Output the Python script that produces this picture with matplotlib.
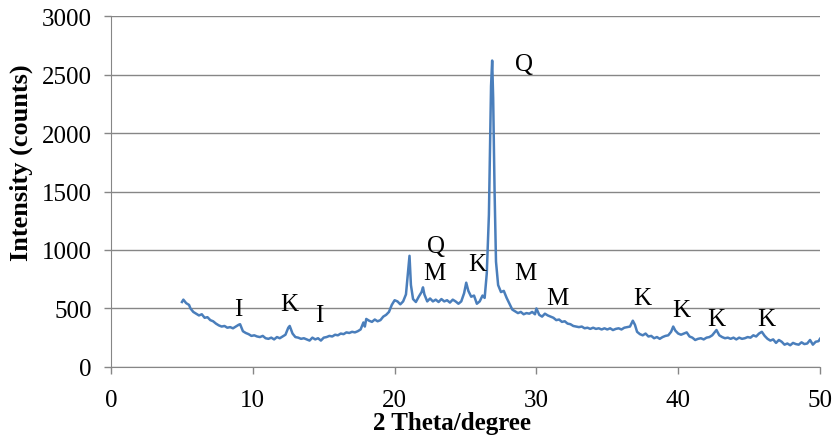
import matplotlib
matplotlib.use("Agg")
import matplotlib.pyplot as plt

plt.rcParams['font.family'] = ['Liberation Serif', 'DejaVu Serif']

# 2 theta (deg) and intensity (counts)
two_theta = [5.0, 5.1, 5.3, 5.5, 5.6, 5.8, 6.0, 6.2, 6.4, 6.6, 6.8, 7.0, 7.2, 7.4, 7.6, 7.8,
             8.0, 8.2, 8.4, 8.6, 8.8, 9.0, 9.1, 9.3, 9.5, 9.7, 9.9, 10.1, 10.3, 10.5, 10.7,
             10.9, 11.1, 11.3, 11.5, 11.7, 11.9, 12.1, 12.3, 12.5, 12.6, 12.8, 13.0, 13.2,
             13.4, 13.6, 13.8, 14.0, 14.2, 14.4, 14.6, 14.8, 15.0, 15.2, 15.4, 15.6, 15.8,
             16.0, 16.2, 16.4, 16.6, 16.8, 17.0, 17.2, 17.4, 17.6, 17.8, 17.9, 18.0, 18.2,
             18.4, 18.6, 18.8, 19.0, 19.2, 19.4, 19.6, 19.8, 20.0, 20.2, 20.4, 20.6, 20.8,
             20.95, 21.05, 21.15, 21.3, 21.5, 21.7, 21.9, 22.0, 22.1, 22.3, 22.5, 22.7, 22.9,
             23.1, 23.3, 23.5, 23.7, 23.9, 24.1, 24.3, 24.5, 24.7, 24.9, 25.05, 25.2, 25.4,
             25.6, 25.8, 26.0, 26.2, 26.35, 26.5, 26.65, 26.8, 26.88, 26.95, 27.05, 27.15,
             27.3, 27.5, 27.7, 27.9, 28.1, 28.3, 28.5, 28.7, 28.9, 29.1, 29.3, 29.5, 29.7,
             29.9, 30.0, 30.2, 30.4, 30.6, 30.8, 31.0, 31.2, 31.4, 31.6, 31.8, 32.0, 32.2,
             32.4, 32.6, 32.8, 33.0, 33.2, 33.4, 33.6, 33.8, 34.0, 34.2, 34.4, 34.6, 34.8,
             35.0, 35.2, 35.4, 35.6, 35.8, 36.0, 36.2, 36.4, 36.6, 36.8, 36.95, 37.1, 37.3,
             37.5, 37.7, 37.9, 38.1, 38.3, 38.5, 38.7, 38.9, 39.1, 39.3, 39.5, 39.65, 39.8,
             40.0, 40.2, 40.4, 40.6, 40.8, 41.0, 41.2, 41.4, 41.6, 41.8, 42.0, 42.2, 42.4,
             42.6, 42.7, 42.9, 43.1, 43.3, 43.5, 43.7, 43.9, 44.1, 44.3, 44.5, 44.7, 44.9,
             45.1, 45.3, 45.5, 45.7, 45.9, 46.1, 46.3, 46.5, 46.7, 46.9, 47.1, 47.3, 47.5,
             47.7, 47.9, 48.1, 48.3, 48.5, 48.7, 48.9, 49.1, 49.3, 49.5, 49.7, 49.9, 50.0]
counts = [555, 575, 545, 530, 500, 470, 455, 440, 450, 420, 425, 400, 390, 370, 355, 345,
          350, 335, 340, 330, 345, 360, 365, 305, 290, 280, 265, 270, 260, 255, 265,
          245, 240, 250, 235, 255, 245, 260, 275, 335, 350, 285, 255, 250,
          240, 245, 235, 225, 250, 235, 245, 225, 250, 255, 265, 260, 275,
          270, 285, 280, 295, 290, 300, 295, 305, 320, 380, 345, 410, 395,
          385, 405, 390, 400, 430, 445, 470, 530, 570, 560, 535, 560, 620,
          820, 950, 700, 580, 555, 600, 640, 680, 620, 560, 585, 560, 575,
          555, 580, 560, 570, 550, 575, 560, 540, 560, 630, 720, 650, 600,
          610, 540, 560, 610, 590, 800, 1300, 2400, 2620, 2300, 1500, 900,
          700, 640, 650, 590, 540, 490, 475, 460, 470, 450, 460, 455, 470,
          450, 500, 445, 430, 455, 440, 430, 420, 400, 405, 385, 390, 370,
          365, 350, 345, 340, 345, 330, 335, 325, 335, 325, 330, 320, 330,
          320, 330, 315, 325, 330, 320, 335, 340, 345, 395, 360, 300, 280,
          270, 285, 260, 265, 245, 255, 240, 255, 265, 270, 300, 345, 310,
          285, 275, 285, 295, 260, 250, 230, 240, 245, 235, 250, 255, 270,
          300, 315, 270, 255, 245, 250, 240, 250, 235, 250, 240, 245, 255,
          250, 270, 260, 285, 300, 265, 240, 225, 235, 205, 230, 215, 190,
          200, 185, 205, 195, 190, 210, 195, 200, 230, 190, 215, 220, 240]

# phase labels
label_text = ['I', 'K', 'I', 'Q', 'M', 'K', 'Q', 'M', 'M', 'K', 'K', 'K', 'K']
label_x = [8.96, 12.55, 14.67, 22.9, 22.8, 25.8, 29.1, 29.2, 31.45, 37.5, 40.2, 42.7, 46.2]
label_y = [496, 538, 444, 1034, 803, 880, 2590, 803, 590, 590, 487, 410, 410]

grey = '#868686'

fig = plt.figure(figsize=(8.35, 4.39), dpi=100)
ax = fig.add_axes([0.133, 0.162, 0.849, 0.799])

ax.plot(two_theta, counts, color='#4a7ebb', linewidth=1.8)

for t, x, y in zip(label_text, label_x, label_y):
    ax.text(x, y, t, fontsize=18, ha='center', va='center')

ax.set_xlim(0, 50)
ax.set_ylim(0, 3000)
ax.set_xticks(range(0, 51, 10))
ax.set_yticks(range(0, 3001, 500))
ax.yaxis.grid(True, color=grey, linewidth=1)
ax.set_axisbelow(True)

for s in ['top', 'right']:
    ax.spines[s].set_visible(False)
for s in ['left', 'bottom']:
    ax.spines[s].set_color(grey)
ax.tick_params(colors=grey, labelcolor='black', labelsize=18, length=5, width=1, direction='out')
ax.tick_params(axis='x', pad=11)
ax.tick_params(axis='y', pad=9)

ax.set_xlabel('2 Theta/degree', fontsize=18, fontweight='bold')
ax.set_ylabel('Intensity (counts)', fontsize=19, fontweight='bold')
ax.xaxis.set_label_coords(0.481, -0.127)
ax.yaxis.set_label_coords(-0.110, 0.584)

fig.savefig('out.png', dpi=100)
